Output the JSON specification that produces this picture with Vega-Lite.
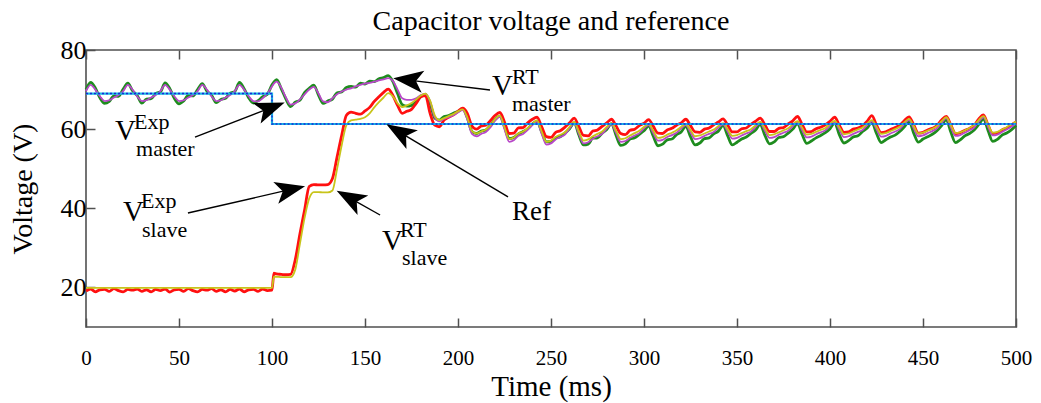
{
"$schema": "https://vega.github.io/schema/vega-lite/v6.json",
"width": 930, "height": 277,
"autosize": {"type": "none"},
"padding": {"left": 86, "top": 50, "right": 25, "bottom": 76},
"background": "white",
"title": {"text": "Capacitor voltage and reference", "font": "Liberation Serif", "fontSize": 28, "fontWeight": "normal", "color": "#000", "offset": 1},
"config": {"view": {"stroke": "#505050", "strokeWidth": 1.6}},
"resolve": {"axis": {"x": "independent", "y": "independent"}},
"datasets": {
"main": [
{"t":0,"m":69.6,"g":70.0,"y":19.9,"r":19.1},
{"t":2.5,"m":71.2,"g":71.8,"y":19.9,"r":19.6},
{"t":5,"m":70.0,"g":70.4,"y":19.9,"r":18.9},
{"t":7.5,"m":68.3,"g":67.9,"y":19.9,"r":19.4},
{"t":10,"m":67.1,"g":66.5,"y":19.9,"r":19.5},
{"t":12.5,"m":67.3,"g":67.0,"y":19.9,"r":19.0},
{"t":15,"m":68.0,"g":68.4,"y":19.9,"r":19.7},
{"t":17.5,"m":68.6,"g":68.3,"y":19.9,"r":19.2},
{"t":20,"m":69.6,"g":70.1,"y":19.9,"r":18.9},
{"t":22.5,"m":71.2,"g":71.6,"y":19.9,"r":19.5},
{"t":25,"m":70.0,"g":69.7,"y":19.9,"r":19.3},
{"t":27.5,"m":68.3,"g":68.5,"y":19.9,"r":19.6},
{"t":30,"m":67.1,"g":66.6,"y":19.9,"r":19.0},
{"t":32.5,"m":67.3,"g":67.6,"y":19.9,"r":19.4},
{"t":35,"m":68.0,"g":67.7,"y":19.9,"r":18.9},
{"t":37.5,"m":68.6,"g":69.0,"y":19.9,"r":19.5},
{"t":40,"m":69.6,"g":69.4,"y":19.9,"r":19.2},
{"t":42.5,"m":71.2,"g":71.7,"y":19.9,"r":19.6},
{"t":45,"m":70.0,"g":70.3,"y":19.9,"r":18.8},
{"t":47.5,"m":68.3,"g":67.8,"y":19.9,"r":19.4},
{"t":50,"m":67.1,"g":66.4,"y":19.9,"r":19.5},
{"t":52.5,"m":67.3,"g":67.1,"y":19.9,"r":19.0},
{"t":55,"m":68.0,"g":68.5,"y":19.9,"r":19.7},
{"t":57.5,"m":68.6,"g":68.4,"y":19.9,"r":19.2},
{"t":60,"m":69.6,"g":70.0,"y":19.9,"r":18.9},
{"t":62.5,"m":71.2,"g":71.5,"y":19.9,"r":19.5},
{"t":65,"m":70.0,"g":69.6,"y":19.9,"r":19.3},
{"t":67.5,"m":68.3,"g":68.6,"y":19.9,"r":19.7},
{"t":70,"m":67.1,"g":66.7,"y":19.9,"r":19.0},
{"t":72.5,"m":67.3,"g":67.5,"y":19.9,"r":19.4},
{"t":75,"m":68.0,"g":67.8,"y":19.9,"r":18.9},
{"t":77.5,"m":68.6,"g":69.1,"y":19.9,"r":19.5},
{"t":80,"m":69.6,"g":69.5,"y":19.9,"r":19.1},
{"t":82.5,"m":71.2,"g":71.8,"y":19.9,"r":19.6},
{"t":85,"m":70.0,"g":70.2,"y":19.9,"r":18.9},
{"t":87.5,"m":68.3,"g":67.9,"y":19.9,"r":19.4},
{"t":90,"m":67.1,"g":66.6,"y":19.9,"r":19.5},
{"t":92.5,"m":67.0,"g":67.2,"y":19.9,"r":19.0},
{"t":95,"m":67.8,"g":68.2,"y":19.9,"r":19.6},
{"t":97.5,"m":69.0,"g":68.8,"y":19.9,"r":19.2},
{"t":100,"m":70.8,"g":71.2,"y":19.9,"r":19.3},
{"t":101,"m":71.5,"g":71.9,"y":22.7,"r":23.6},
{"t":102.5,"m":72.0,"g":72.5,"y":22.7,"r":23.4},
{"t":105,"m":70.5,"g":70.2,"y":22.6,"r":23.3},
{"t":107.5,"m":68.0,"g":67.6,"y":22.6,"r":23.2},
{"t":110,"m":66.2,"g":65.7,"y":22.6,"r":23.3},
{"t":112.5,"m":66.5,"g":66.8,"y":24.5,"r":27.0},
{"t":115,"m":67.5,"g":67.3,"y":31.0,"r":33.5},
{"t":117.5,"m":68.8,"g":69.2,"y":37.5,"r":39.5},
{"t":120,"m":70.0,"g":70.3,"y":42.5,"r":45.5},
{"t":122.5,"m":70.7,"g":71.1,"y":44.1,"r":46.0},
{"t":125,"m":69.0,"g":68.6,"y":44.1,"r":45.9},
{"t":127.5,"m":67.0,"g":66.5,"y":44.0,"r":45.9},
{"t":130,"m":66.8,"g":67.1,"y":44.0,"r":46.0},
{"t":132.5,"m":67.8,"g":67.6,"y":44.5,"r":47.5},
{"t":135,"m":68.8,"g":69.2,"y":50.0,"r":53.0},
{"t":137.5,"m":69.5,"g":69.4,"y":56.0,"r":58.5},
{"t":140,"m":70.0,"g":70.5,"y":61.0,"r":63.5},
{"t":142.5,"m":70.3,"g":70.8,"y":62.2,"r":64.3},
{"t":145,"m":70.8,"g":70.6,"y":62.4,"r":64.0},
{"t":147.5,"m":71.2,"g":71.6,"y":62.6,"r":63.8},
{"t":150,"m":71.5,"g":71.4,"y":63.0,"r":64.6},
{"t":152.5,"m":71.7,"g":72.1,"y":64.0,"r":65.5},
{"t":155,"m":72.0,"g":72.0,"y":65.5,"r":67.0},
{"t":157.5,"m":72.3,"g":72.7,"y":66.8,"r":68.2},
{"t":160,"m":72.6,"g":73.0,"y":68.0,"r":69.3},
{"t":162.5,"m":72.9,"g":73.5,"y":69.1,"r":70.1},
{"t":165,"m":72.2,"g":72.0,"y":68.3,"r":68.5},
{"t":167.5,"m":70.0,"g":69.0,"y":66.5,"r":66.0},
{"t":170,"m":67.8,"g":66.2,"y":65.6,"r":64.0},
{"t":172.5,"m":67.4,"g":65.8,"y":66.0,"r":64.5},
{"t":175,"m":67.4,"g":66.0,"y":66.6,"r":65.0},
{"t":177.5,"m":67.8,"g":66.9,"y":67.5,"r":66.5},
{"t":180,"m":68.6,"g":68.2,"y":68.5,"r":68.2},
{"t":182.5,"m":69.0,"g":68.8,"y":69.0,"r":68.5},
{"t":185,"m":67.0,"g":66.5,"y":67.2,"r":64.0},
{"t":187.5,"m":63.0,"g":62.8,"y":63.5,"r":61.0},
{"t":190,"m":62.0,"g":62.3,"y":62.3,"r":60.6},
{"t":192.5,"m":62.6,"g":63.2,"y":62.8,"r":62.3},
{"t":195,"m":63.0,"g":63.4,"y":63.3,"r":63.0},
{"t":197.5,"m":63.5,"g":64.0,"y":63.8,"r":63.6},
{"t":200,"m":64.2,"g":64.5,"y":64.5,"r":64.5},
{"t":202.5,"m":64.8,"g":65.1,"y":65.0,"r":65.3},
{"t":205,"m":62.5,"g":62.9,"y":63.0,"r":64.0},
{"t":207.5,"m":58.8,"g":59.4,"y":59.5,"r":60.8},
{"t":210,"m":58.2,"g":58.9,"y":58.9,"r":60.0},
{"t":212.5,"m":58.8,"g":59.5,"y":59.4,"r":60.8},
{"t":215,"m":59.3,"g":59.8,"y":59.9,"r":61.0},
{"t":217.5,"m":60.5,"g":61.0,"y":61.0,"r":62.2},
{"t":220,"m":62.2,"g":62.5,"y":62.6,"r":63.5},
{"t":222.5,"m":63.1,"g":63.3,"y":63.4,"r":64.2},
{"t":225,"m":60.0,"g":60.6,"y":60.5,"r":61.8},
{"t":227.5,"m":56.8,"g":57.6,"y":57.5,"r":58.9},
{"t":230,"m":57.2,"g":57.9,"y":57.9,"r":59.0},
{"t":232.5,"m":58.3,"g":58.8,"y":58.9,"r":60.3},
{"t":235,"m":58.8,"g":59.4,"y":59.4,"r":60.4},
{"t":237.5,"m":59.8,"g":60.1,"y":60.3,"r":61.6},
{"t":240,"m":61.0,"g":61.3,"y":61.4,"r":62.5},
{"t":242.5,"m":61.9,"g":62.0,"y":62.2,"r":63.0},
{"t":245,"m":58.8,"g":59.3,"y":59.4,"r":60.6},
{"t":247.5,"m":56.1,"g":56.8,"y":56.8,"r":58.1},
{"t":250,"m":56.4,"g":56.9,"y":57.1,"r":57.9},
{"t":252.5,"m":57.4,"g":57.8,"y":58.0,"r":59.2},
{"t":255,"m":58.0,"g":58.1,"y":58.6,"r":59.6},
{"t":257.5,"m":58.6,"g":59.0,"y":59.2,"r":60.5},
{"t":260,"m":60.2,"g":60.1,"y":60.6,"r":61.6},
{"t":262.5,"m":61.5,"g":61.6,"y":61.8,"r":62.8},
{"t":265,"m":58.8,"g":58.5,"y":59.4,"r":60.6},
{"t":267.5,"m":56.4,"g":56.0,"y":57.1,"r":58.4},
{"t":270,"m":56.7,"g":56.2,"y":57.4,"r":58.3},
{"t":272.5,"m":57.6,"g":57.7,"y":58.2,"r":59.5},
{"t":275,"m":58.2,"g":57.8,"y":58.8,"r":59.8},
{"t":277.5,"m":58.8,"g":59.0,"y":59.4,"r":60.7},
{"t":280,"m":60.2,"g":59.9,"y":60.6,"r":61.6},
{"t":282.5,"m":61.2,"g":61.4,"y":61.5,"r":62.5},
{"t":285,"m":59.0,"g":58.4,"y":59.6,"r":60.8},
{"t":287.5,"m":56.8,"g":55.9,"y":57.5,"r":58.9},
{"t":290,"m":57.0,"g":56.3,"y":57.7,"r":58.6},
{"t":292.5,"m":57.8,"g":57.5,"y":58.4,"r":59.7},
{"t":295,"m":58.4,"g":57.8,"y":59.0,"r":60.0},
{"t":297.5,"m":59.0,"g":58.7,"y":59.6,"r":60.9},
{"t":300,"m":60.2,"g":59.6,"y":60.6,"r":61.5},
{"t":302.5,"m":61.0,"g":60.8,"y":61.3,"r":62.4},
{"t":305,"m":59.0,"g":58.2,"y":59.6,"r":60.7},
{"t":307.5,"m":57.1,"g":55.8,"y":57.8,"r":59.0},
{"t":310,"m":57.3,"g":56.2,"y":58.0,"r":58.9},
{"t":312.5,"m":58.0,"g":57.3,"y":58.6,"r":59.8},
{"t":315,"m":58.5,"g":57.5,"y":59.1,"r":60.2},
{"t":317.5,"m":59.1,"g":58.6,"y":59.7,"r":61.0},
{"t":320,"m":60.2,"g":59.3,"y":60.6,"r":61.6},
{"t":322.5,"m":61.0,"g":60.7,"y":61.3,"r":62.5},
{"t":325,"m":59.2,"g":58.1,"y":59.8,"r":60.9},
{"t":327.5,"m":57.5,"g":56.0,"y":58.2,"r":59.3},
{"t":330,"m":57.7,"g":56.5,"y":58.4,"r":59.2},
{"t":332.5,"m":58.3,"g":57.6,"y":58.9,"r":60.0},
{"t":335,"m":58.8,"g":57.8,"y":59.4,"r":60.3},
{"t":337.5,"m":59.3,"g":58.8,"y":59.9,"r":61.1},
{"t":340,"m":60.4,"g":59.5,"y":60.8,"r":61.8},
{"t":342.5,"m":61.2,"g":60.9,"y":61.5,"r":62.6},
{"t":345,"m":59.4,"g":58.3,"y":60.0,"r":61.0},
{"t":347.5,"m":57.6,"g":56.0,"y":58.3,"r":59.3},
{"t":350,"m":57.8,"g":56.7,"y":58.5,"r":59.3},
{"t":352.5,"m":58.4,"g":57.5,"y":59.0,"r":60.1},
{"t":355,"m":58.9,"g":58.0,"y":59.5,"r":60.3},
{"t":357.5,"m":59.4,"g":58.9,"y":60.0,"r":61.2},
{"t":360,"m":60.6,"g":59.8,"y":61.0,"r":62.0},
{"t":362.5,"m":61.5,"g":61.2,"y":61.8,"r":62.8},
{"t":365,"m":59.6,"g":58.4,"y":60.2,"r":61.1},
{"t":367.5,"m":57.8,"g":56.3,"y":58.5,"r":59.4},
{"t":370,"m":58.0,"g":56.8,"y":58.7,"r":59.4},
{"t":372.5,"m":58.6,"g":57.9,"y":59.2,"r":60.2},
{"t":375,"m":59.1,"g":58.1,"y":59.7,"r":60.4},
{"t":377.5,"m":59.6,"g":59.0,"y":60.2,"r":61.3},
{"t":380,"m":60.8,"g":60.0,"y":61.2,"r":62.1},
{"t":382.5,"m":61.7,"g":61.4,"y":62.0,"r":63.2},
{"t":385,"m":59.8,"g":58.7,"y":60.4,"r":61.2},
{"t":387.5,"m":57.9,"g":56.4,"y":58.6,"r":59.3},
{"t":390,"m":58.1,"g":57.0,"y":58.8,"r":59.4},
{"t":392.5,"m":58.7,"g":57.8,"y":59.3,"r":60.1},
{"t":395,"m":59.2,"g":58.4,"y":59.8,"r":60.5},
{"t":397.5,"m":59.7,"g":59.1,"y":60.3,"r":61.1},
{"t":400,"m":60.9,"g":60.1,"y":61.3,"r":62.0},
{"t":402.5,"m":61.8,"g":61.6,"y":62.1,"r":63.0},
{"t":405,"m":59.9,"g":58.6,"y":60.5,"r":61.0},
{"t":407.5,"m":58.0,"g":56.5,"y":58.7,"r":59.2},
{"t":410,"m":58.2,"g":57.1,"y":58.9,"r":59.3},
{"t":412.5,"m":58.8,"g":58.0,"y":59.4,"r":60.0},
{"t":415,"m":59.3,"g":58.3,"y":59.9,"r":60.3},
{"t":417.5,"m":59.8,"g":59.4,"y":60.4,"r":60.9},
{"t":420,"m":61.0,"g":60.3,"y":61.4,"r":62.0},
{"t":422.5,"m":62.0,"g":61.7,"y":62.3,"r":63.4},
{"t":425,"m":60.0,"g":58.9,"y":60.6,"r":61.0},
{"t":427.5,"m":58.1,"g":56.6,"y":58.8,"r":59.1},
{"t":430,"m":58.3,"g":57.3,"y":59.0,"r":59.3},
{"t":432.5,"m":58.9,"g":58.0,"y":59.5,"r":59.9},
{"t":435,"m":59.4,"g":58.5,"y":60.0,"r":60.4},
{"t":437.5,"m":60.0,"g":59.4,"y":60.6,"r":61.0},
{"t":440,"m":61.3,"g":60.6,"y":61.7,"r":62.2},
{"t":442.5,"m":62.3,"g":62.0,"y":62.6,"r":63.1},
{"t":445,"m":60.2,"g":59.0,"y":60.8,"r":61.1},
{"t":447.5,"m":58.2,"g":56.7,"y":58.9,"r":59.0},
{"t":450,"m":58.4,"g":57.5,"y":59.1,"r":59.2},
{"t":452.5,"m":59.0,"g":58.1,"y":59.6,"r":59.8},
{"t":455,"m":59.5,"g":58.7,"y":60.1,"r":60.2},
{"t":457.5,"m":60.2,"g":59.6,"y":60.8,"r":60.9},
{"t":460,"m":61.6,"g":60.9,"y":62.0,"r":62.3},
{"t":462.5,"m":62.7,"g":62.4,"y":63.0,"r":63.2},
{"t":465,"m":60.4,"g":59.2,"y":61.0,"r":61.0},
{"t":467.5,"m":58.3,"g":56.6,"y":59.0,"r":58.9},
{"t":470,"m":58.5,"g":57.3,"y":59.2,"r":59.1},
{"t":472.5,"m":59.1,"g":58.3,"y":59.7,"r":59.7},
{"t":475,"m":59.7,"g":58.9,"y":60.3,"r":60.2},
{"t":477.5,"m":60.4,"g":59.8,"y":61.0,"r":61.0},
{"t":480,"m":61.9,"g":61.2,"y":62.3,"r":62.6},
{"t":482.5,"m":63.0,"g":62.6,"y":63.3,"r":63.6},
{"t":485,"m":60.6,"g":59.6,"y":61.2,"r":61.0},
{"t":487.5,"m":58.4,"g":56.9,"y":59.1,"r":58.9},
{"t":490,"m":58.6,"g":57.4,"y":59.3,"r":59.0},
{"t":492.5,"m":59.3,"g":58.5,"y":59.9,"r":59.8},
{"t":495,"m":59.9,"g":59.0,"y":60.5,"r":60.3},
{"t":497.5,"m":60.6,"g":59.8,"y":61.2,"r":61.0},
{"t":500,"m":61.4,"g":60.9,"y":61.9,"r":61.8}
],
"ref": [
{"k":0,"t":0,"v":69.0},
{"k":1,"t":100,"v":69.0},
{"k":2,"t":100,"v":61.3},
{"k":3,"t":500,"v":61.3}
],
"arrows": [
{"x1":58.6,"y1":58.0,"x2":98.9,"y2":65.3},
{"x1":217.2,"y1":69.9,"x2":173.6,"y2":72.4},
{"x1":226.9,"y1":42.9,"x2":168.8,"y2":59.2},
{"x1":54.8,"y1":38.8,"x2":109.5,"y2":44.7},
{"x1":158.1,"y1":38.3,"x2":142.2,"y2":42.5}
],
"heads": [
{"t":98.9,"v":65.3,"a":69},
{"t":173.6,"v":72.4,"a":-83},
{"t":168.8,"v":59.2,"a":-59},
{"t":109.5,"v":44.7,"a":77},
{"t":142.2,"v":42.5,"a":-61}
],
"vbig": [
{"t":15.6,"v":57.3,"s":"V"},
{"t":218.3,"v":68.6,"s":"V"},
{"t":19.9,"v":36.8,"s":"V"},
{"t":159.1,"v":29.5,"s":"V"}
],
"small": [
{"t":25.8,"v":60.0,"s":"Exp"},
{"t":26.9,"v":53.2,"s":"master"},
{"t":229.0,"v":71.3,"s":"RT"},
{"t":229.0,"v":64.6,"s":"master"},
{"t":29.6,"v":40.1,"s":"Exp"},
{"t":30.1,"v":32.7,"s":"slave"},
{"t":168.8,"v":32.7,"s":"RT"},
{"t":169.9,"v":25.7,"s":"slave"}
],
"reflab": [
{"t":229.0,"v":37.0,"s":"Ref"}
]
},
"layer": [
{"data": {"name": "main"},
 "mark": {"type": "line", "color": "#1e8c1e", "strokeWidth": 2.8, "interpolate": "monotone"},
 "encoding": {
  "x": {"field": "t", "type": "quantitative", "scale": {"domain": [0, 500], "nice": false, "zero": false},
        "axis": {"orient": "bottom", "values": [0,50,100,150,200,250,300,350,400,450,500], "title": "Time (ms)",
                 "titleFont": "Liberation Serif", "titleFontSize": 29, "titleFontWeight": "normal", "titleColor": "#000", "titlePadding": 4,
                 "labelFont": "Liberation Serif", "labelFontSize": 21, "labelColor": "#000", "labelPadding": 29, "labelFlush": false,
                 "tickSize": -9, "tickColor": "#505050", "tickWidth": 1.5, "domain": false, "grid": false}},
  "y": {"field": "g", "type": "quantitative", "scale": {"domain": [10, 80], "nice": false, "zero": false},
        "axis": {"orient": "left", "values": [20,40,60,80], "title": "Voltage (V)",
                 "titleFont": "Liberation Serif", "titleFontSize": 28, "titleFontWeight": "normal", "titleColor": "#000", "titlePadding": 23,
                 "labelFont": "Liberation Serif", "labelFontSize": 26, "labelColor": "#000", "labelPadding": 9,
                 "tickSize": -9, "tickColor": "#505050", "tickWidth": 1.5, "domain": false, "grid": false}}
 }},
{"data": {"name": "main"},
 "mark": {"type": "line", "color": "#ff1010", "strokeWidth": 2.8, "interpolate": "monotone"},
 "encoding": {"x": {"field": "t", "type": "quantitative", "axis": null}, "y": {"field": "r", "type": "quantitative", "axis": null}}},
{"data": {"name": "main"},
 "mark": {"type": "line", "color": "#b848c8", "strokeWidth": 1.8, "interpolate": "monotone"},
 "encoding": {"x": {"field": "t", "type": "quantitative", "axis": null}, "y": {"field": "m", "type": "quantitative", "axis": null}}},
{"data": {"name": "main"},
 "mark": {"type": "line", "color": "#c8c41a", "strokeWidth": 1.8, "interpolate": "monotone"},
 "encoding": {"x": {"field": "t", "type": "quantitative", "axis": null}, "y": {"field": "y", "type": "quantitative", "axis": null}}},
{"data": {"name": "ref"},
 "mark": {"type": "line", "color": "#18b4e4", "strokeWidth": 2.2},
 "encoding": {
  "x": {"field": "t", "type": "quantitative",
        "axis": {"orient": "top", "values": [0,50,100,150,200,250,300,350,400,450,500], "labels": false, "title": null,
                 "tickSize": -9, "tickColor": "#505050", "tickWidth": 1.5, "domain": false, "grid": false}},
  "y": {"field": "v", "type": "quantitative", "axis": null},
  "order": {"field": "k", "type": "quantitative"}}},
{"data": {"name": "ref"},
 "mark": {"type": "line", "color": "#1a28d8", "strokeWidth": 1.4, "strokeDash": [2, 2]},
 "encoding": {"x": {"field": "t", "type": "quantitative", "axis": null}, "y": {"field": "v", "type": "quantitative", "axis": null},
  "order": {"field": "k", "type": "quantitative"}}},
{"data": {"name": "arrows"},
 "mark": {"type": "rule", "color": "#000", "strokeWidth": 1.4},
 "encoding": {"x": {"field": "x1", "type": "quantitative", "axis": null}, "x2": {"field": "x2"},
              "y": {"field": "y1", "type": "quantitative", "axis": null}, "y2": {"field": "y2"}}},
{"data": {"name": "heads"},
 "mark": {"type": "point", "shape": "M0,-1L0.7,0.9L0,0.45L-0.7,0.9Z", "filled": true, "color": "#000", "opacity": 1, "size": 1000, "strokeWidth": 0},
 "encoding": {"x": {"field": "t", "type": "quantitative", "axis": null}, "y": {"field": "v", "type": "quantitative", "axis": null},
              "angle": {"field": "a", "type": "quantitative", "scale": null}}},
{"data": {"name": "vbig"},
 "mark": {"type": "text", "font": "Liberation Serif", "fontSize": 29, "color": "#000", "align": "left", "baseline": "alphabetic"},
 "encoding": {"x": {"field": "t", "type": "quantitative", "axis": null}, "y": {"field": "v", "type": "quantitative", "axis": null}, "text": {"field": "s"}}},
{"data": {"name": "small"},
 "mark": {"type": "text", "font": "Liberation Serif", "fontSize": 22, "color": "#000", "align": "left", "baseline": "alphabetic"},
 "encoding": {"x": {"field": "t", "type": "quantitative", "axis": null}, "y": {"field": "v", "type": "quantitative", "axis": null}, "text": {"field": "s"}}},
{"data": {"name": "reflab"},
 "mark": {"type": "text", "font": "Liberation Serif", "fontSize": 27, "color": "#000", "align": "left", "baseline": "alphabetic"},
 "encoding": {"x": {"field": "t", "type": "quantitative", "axis": null}, "y": {"field": "v", "type": "quantitative", "axis": null}, "text": {"field": "s"}}}
]
}
